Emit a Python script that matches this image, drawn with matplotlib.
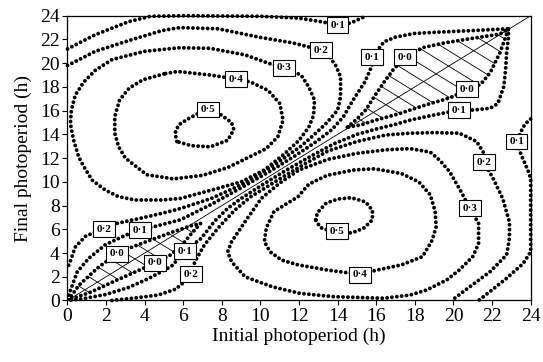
import numpy as np
import matplotlib
matplotlib.use("Agg")
import matplotlib.pyplot as plt
from matplotlib.patches import Polygon

plt.rcParams['font.family'] = ['Liberation Serif', 'DejaVu Serif']

# contour lines, (initial, final) in hours
top_01 = [(0, 21.2), (1.44, 22.4), (3.17, 23.5), (4.3, 23.95), (6, 24.0), (10, 23.95),
          (12, 23.8), (13.3, 23.45), (14.0, 23.2), (14.7, 23.4), (15.5, 24.0)]
up_01 = [(0.06, 0.45), (0.5, 2.4), (1.1, 3.55), (1.96, 4.7), (3.0, 5.5), (3.76, 5.94),
         (4.55, 6.25), (5.85, 6.8), (7.45, 8.1), (9.0, 9.5), (10.5, 10.9), (11.8, 12.2),
         (12.9, 13.4), (13.7, 14.4), (14.3, 15.5), (14.8, 16.9), (15.4, 18.4), (15.78, 19.8),
         (15.78, 20.5), (16.4, 21.8), (17.0, 22.2), (17.95, 22.5), (19, 22.6), (21, 22.75),
         (22.85, 22.9)]
up_02 = [(0, 19.8), (1.44, 21.0), (3.17, 21.9), (4.9, 22.75), (5.8, 23.0), (7.8, 22.9),
         (9.9, 22.2), (11.7, 21.7), (13.13, 21.1), (13.5, 20.7), (13.9, 19.8), (14.15, 18.85),
         (14.15, 17.2), (14.0, 16.05), (13.45, 15.0), (12.8, 14.0), (12.1, 13.0), (11.4, 12.2),
         (10.5, 11.2), (9.2, 9.9), (7.45, 8.6), (5.85, 7.75), (4.9, 7.35), (3.7, 6.9),
         (2.56, 6.5), (1.89, 6.1), (0.92, 5.4), (0.4, 4.5), (0.1, 3.1), (0.0, 2.8)]
up_03 = [(11.22, 19.6), (10.4, 20.0), (9.2, 20.7), (7.4, 21.25), (5.8, 21.3), (4.0, 21.0),
         (2.3, 20.3), (1.44, 19.4), (0.84, 18.4), (0.4, 17.3), (0.2, 16.05), (0.15, 14.9),
         (0.32, 13.5), (0.58, 12.1), (0.84, 11.3), (1.27, 10.15), (1.96, 9.3), (2.65, 8.75),
         (3.5, 8.47), (4.9, 8.47), (5.85, 8.6), (7.45, 9.3), (9.0, 10.0), (10.2, 11.0),
         (11.2, 12.3), (12.0, 13.5), (12.5, 14.6), (12.75, 15.6), (12.8, 16.9), (12.5, 18.0),
         (12.1, 19.0), (11.22, 19.6)]
up_04 = [(5.0, 19.1), (3.9, 18.6), (3.2, 17.9), (2.7, 16.9), (2.45, 15.5), (2.45, 14.1),
         (2.65, 12.95), (3.0, 12.0), (4.1, 10.6), (5.5, 10.25), (7.0, 10.55), (8.3, 11.2),
         (9.3, 12.0), (10.3, 12.8), (10.9, 13.8), (11.17, 15.2), (11.0, 16.6), (10.4, 17.7),
         (9.5, 18.4), (8.74, 18.66), (7.4, 19.0), (5.7, 19.3), (5.0, 19.1)]
up_05 = [(5.67, 13.4), (5.57, 14.1), (5.76, 14.8), (6.24, 15.3), (6.76, 15.75), (7.3, 15.95),
         (7.95, 15.65), (8.5, 15.0), (8.62, 14.4), (8.3, 13.5), (7.4, 12.95), (6.4, 13.05),
         (5.67, 13.4)]

low_01 = [(22.85, 22.9), (22.85, 22.2), (22.75, 20.8), (22.7, 19.4), (22.6, 18.0), (22.3, 16.6),
          (21.9, 16.2), (21.0, 16.05), (20.28, 16.05), (19.5, 15.8), (18.6, 15.5), (17.75, 15.2),
          (17.0, 14.85), (16.0, 14.45), (15.0, 14.0), (13.8, 13.2), (12.6, 12.15), (11.3, 10.95),
          (10.0, 9.65), (9.0, 8.6), (8.3, 7.77), (7.6, 6.64), (6.93, 5.24), (6.09, 4.17),
          (5.4, 2.9), (4.2, 1.85), (3.17, 1.1), (1.96, 0.5), (0.8, 0.15), (0.1, 0.02)]
low_02 = [(2.3, 0.0), (3.43, 0.2), (4.7, 0.46), (5.6, 0.95), (6.0, 1.5), (6.4, 2.23),
          (6.6, 3.27), (7.1, 4.7), (7.8, 6.1), (8.66, 7.6), (9.5, 8.75), (10.5, 9.75),
          (11.5, 10.75), (12.5, 11.7), (13.5, 12.6), (15.0, 13.4), (16.5, 13.95), (17.75, 14.1),
          (19.0, 14.15), (20.3, 14.1), (21.2, 13.4), (21.58, 12.4), (21.58, 11.66), (22.05, 10.3),
          (22.55, 8.6), (22.9, 6.6), (22.9, 5.24), (22.75, 3.83), (21.9, 2.43), (20.85, 1.16),
          (19.9, 0.0)]
low_03 = [(20.85, 7.77), (20.3, 9.45), (19.8, 10.85), (19.3, 11.8), (18.8, 12.5), (17.75, 12.8),
          (16.5, 12.7), (15.0, 12.4), (13.5, 11.9), (12.0, 11.0), (11.0, 9.9), (10.04, 8.6),
          (9.2, 6.64), (8.5, 4.95), (8.3, 4.1), (8.5, 3.27), (9.2, 2.0), (10.6, 1.16),
          (12.05, 0.6), (13.8, 0.32), (16.4, 0.19), (17.75, 0.46), (18.6, 0.88), (19.65, 1.73),
          (20.3, 2.57), (21.0, 3.7), (21.3, 4.8), (21.3, 6.5), (20.85, 7.77)]
low_04 = [(15.15, 2.2), (16.05, 2.57), (17.3, 3.0), (18.4, 3.7), (18.9, 5.1), (19.1, 6.2),
          (19.05, 7.5), (18.8, 8.9), (18.2, 10.0), (17.3, 10.7), (15.9, 11.1), (14.85, 11.0),
          (13.45, 10.55), (12.5, 9.8), (11.95, 8.75), (10.7, 7.5), (10.3, 6.1), (10.2, 4.95),
          (10.5, 4.1), (11.1, 3.4), (11.95, 3.0), (13.45, 2.57), (15.15, 2.2)]
low_05 = [(12.86, 6.8), (12.95, 7.4), (13.4, 8.2), (14.0, 8.55), (14.7, 8.66), (15.45, 8.3),
          (15.8, 7.6), (15.8, 6.8), (15.35, 6.1), (14.75, 5.7), (13.95, 5.7), (13.1, 6.15),
          (12.86, 6.8)]
right_01 = [(24.0, 15.3), (23.85, 15.1), (23.6, 14.6), (23.28, 13.4), (23.5, 12.3), (23.85, 11.0),
            (24.0, 10.3), (24.0, 4.1), (23.6, 3.1), (22.75, 1.87), (22.0, 0.9), (21.3, 0.0)]

# 0.0 regions (hatched)
zero_upper = [(14.5, 14.6), (15.0, 15.3), (15.45, 16.05), (15.9, 17.2), (16.4, 18.4), (16.9, 19.5),
              (17.49, 20.5), (18.4, 21.3), (19.5, 21.7), (21.0, 22.1), (22.4, 22.45), (22.85, 22.9),
              (22.7, 22.2), (22.4, 20.85), (21.9, 19.2), (21.4, 18.2), (20.7, 17.8), (20.0, 17.2),
              (19.45, 16.9), (18.6, 16.5), (17.75, 16.05), (17.3, 15.8), (16.65, 15.5), (15.97, 15.2),
              (15.2, 14.8), (14.5, 14.6)]
zero_lower = [(0.05, 0.05), (0.6, 1.3), (1.6, 2.8), (2.56, 3.92), (3.34, 4.5), (4.4, 5.15),
              (5.5, 5.8), (6.4, 6.3), (6.9, 6.5), (6.4, 5.6), (5.9, 4.6), (5.3, 3.8),
              (4.53, 3.16), (3.5, 2.4), (2.4, 1.6), (1.2, 0.7), (0.05, 0.05)]

label_text = ['0·1', '0·2', '0·3', '0·4', '0·5', '0·1', '0·0', '0·0', '0·1', '0·1',
              '0·2', '0·3', '0·5', '0·4', '0·2', '0·1', '0·0', '0·0', '0·1', '0·2']
label_x = [14.0, 13.13, 11.22, 8.74, 7.28, 15.78, 17.49, 20.7, 20.28, 23.28,
           21.58, 20.85, 13.96, 15.15, 1.89, 3.76, 2.56, 4.53, 6.09, 6.4]
label_y = [23.2, 21.1, 19.6, 18.66, 16.1, 20.5, 20.5, 17.8, 16.05, 13.4,
           11.66, 7.77, 5.85, 2.15, 6.02, 5.94, 3.92, 3.16, 4.17, 2.23]

lines = [top_01, up_01, up_02, up_03, up_04, up_05,
         low_01, low_02, low_03, low_04, low_05, right_01]

dot_style = dict(color='black', lw=2.8, linestyle=(0, (0.01, 1.25)),
                 dash_capstyle='round', zorder=3)

fig = plt.figure(figsize=(5.43, 3.62), dpi=100)
ax = fig.add_axes([0.1243, 0.1699, 0.8530, 0.7867])

# diagonal reference line
ax.plot([0, 24], [0, 24], color='black', lw=0.6, zorder=2)

# hatching perpendicular to the diagonal
for region in (zero_upper, zero_lower):
    poly = Polygon(region, closed=True, fill=False, edgecolor='none')
    ax.add_patch(poly)
    for c in np.arange(0.5, 49, 1.3):
        ln, = ax.plot([-1, 25], [c + 1, c - 25], color='black', lw=0.6, zorder=2)
        ln.set_clip_path(poly)
    pts = np.array(region)
    ax.plot(pts[:, 0], pts[:, 1], **dot_style)

for pts in lines:
    pts = np.array(pts)
    ax.plot(pts[:, 0], pts[:, 1], clip_on=False, **dot_style)

for t, x, y in zip(label_text, label_x, label_y):
    ax.text(x, y, t, fontsize=8, fontweight='bold', ha='center', va='center', zorder=5,
            bbox=dict(boxstyle='square,pad=0.3', fc='white', ec='black', lw=0.8))

ax.set_xlim(0, 24)
ax.set_ylim(0, 24)
ax.set_xticks(range(0, 25, 2))
ax.set_yticks(range(0, 25, 2))
ax.tick_params(direction='out', length=3.5, width=0.8, labelsize=14, pad=2)
for s in ax.spines.values():
    s.set_linewidth(0.9)
ax.set_xlabel('Initial photoperiod (h)', fontsize=14, labelpad=2)
ax.set_ylabel('Final photoperiod (h)', fontsize=14, labelpad=6)

fig.savefig('out.png', dpi=100)
